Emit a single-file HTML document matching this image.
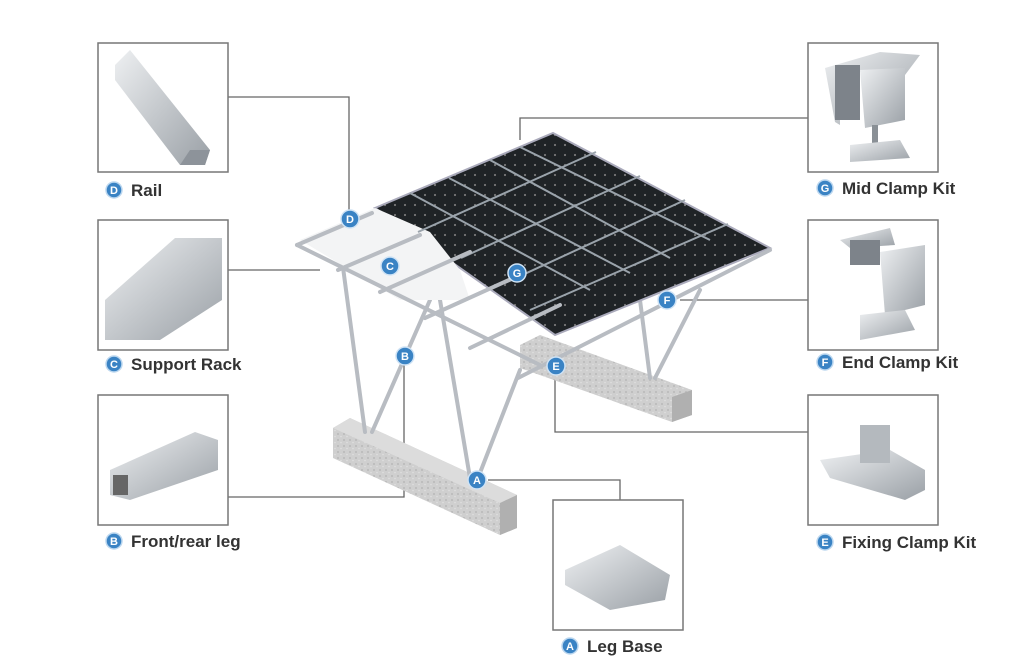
<!DOCTYPE html>
<html><head><meta charset="utf-8"><style>
html,body{margin:0;padding:0;background:#fff;}
svg{display:block}
text{font-family:"Liberation Sans",Arial,sans-serif;}
.lbl{font-size:17px;font-weight:bold;fill:#333;}
.cl{font-size:11px;font-weight:bold;fill:#fff;text-anchor:middle;}
.box{fill:#fff;stroke:#777;stroke-width:1.5}
.ln{stroke:#666;stroke-width:1.3;fill:none}
.beam{stroke:#b8bcc2;stroke-width:4;stroke-linecap:round}
</style></head><body>
<svg width="1024" height="665" viewBox="0 0 1024 665">
<defs>
<pattern id="conc" width="6" height="6" patternUnits="userSpaceOnUse"><rect width="6" height="6" fill="#cfcfcf"/><circle cx="2" cy="2" r="1" fill="#b9b9b9"/><circle cx="5" cy="4.5" r="0.8" fill="#e0e0e0"/></pattern>
<pattern id="cell" width="10" height="10" patternUnits="userSpaceOnUse"><rect width="10" height="10" fill="#1f2326"/><circle cx="5" cy="5" r="1.1" fill="#777"/></pattern>
<linearGradient id="met" x1="0" y1="0" x2="1" y2="1"><stop offset="0" stop-color="#eef0f2"/><stop offset="1" stop-color="#9aa0a6"/></linearGradient>
</defs>

<path class="ln" d="M228 97 H349 V210"/>
<path class="ln" d="M228 270 H320"/>
<path class="ln" d="M228 497 H404 V365"/>
<path class="ln" d="M808 118 H520 V140"/>
<path class="ln" d="M808 300 H680"/>
<path class="ln" d="M808 432 H555 V375"/>
<path class="ln" d="M488 480 H620 V500"/>

<polygon points="333,428 350,418 517,495 517,528 500,535 333,458" fill="url(#conc)"/>
<polygon points="333,428 350,418 517,495 500,503" fill="#dcdcdc"/>
<polygon points="500,503 517,495 517,528 500,535" fill="#b0b0b0"/>
<polygon points="520,345 540,335 692,390 692,415 672,422 520,368" fill="url(#conc)"/>
<polygon points="672,397 692,390 692,415 672,422" fill="#b0b0b0"/>

<line class="beam" x1="365" y1="432" x2="340" y2="245"/>
<line class="beam" x1="372" y1="432" x2="430" y2="300"/>
<line class="beam" x1="470" y1="478" x2="440" y2="300"/>
<line class="beam" x1="478" y1="478" x2="520" y2="370"/>
<line class="beam" x1="650" y1="378" x2="640" y2="300"/>
<line class="beam" x1="655" y1="378" x2="700" y2="290"/>

<polygon points="375,208 553,133 770,248 555,335" fill="url(#cell)" stroke="#aab" stroke-width="2"/>
<polygon points="300,240 375,208 430,232 460,270 470,300 400,300" fill="#f3f4f5"/>
<g stroke="#9aa3ab" stroke-width="2">
<line x1="410" y1="193" x2="590" y2="290"/>
<line x1="449" y1="178" x2="630" y2="273"/>
<line x1="490" y1="160" x2="670" y2="258"/>
<line x1="520" y1="147" x2="710" y2="240"/>
<line x1="418" y1="232" x2="596" y2="152"/>
<line x1="461" y1="258" x2="640" y2="176"/>
<line x1="505" y1="283" x2="685" y2="200"/>
<line x1="530" y1="310" x2="728" y2="224"/>
</g>

<line class="beam" x1="297" y1="245" x2="540" y2="365"/>
<line class="beam" x1="297" y1="245" x2="372" y2="213"/>
<line class="beam" x1="338" y1="270" x2="420" y2="235"/>
<line class="beam" x1="380" y1="292" x2="470" y2="252"/>
<line class="beam" x1="425" y1="318" x2="520" y2="275"/>
<line class="beam" x1="470" y1="348" x2="560" y2="305"/>
<line class="beam" x1="518" y1="378" x2="770" y2="250"/>

<g>
<circle cx="350" cy="219" r="9" fill="#3a83c4" stroke="#cfe3f5" stroke-width="1.5"/><text class="cl" x="350" y="223">D</text>
<circle cx="390" cy="266" r="9" fill="#3a83c4" stroke="#cfe3f5" stroke-width="1.5"/><text class="cl" x="390" y="270">C</text>
<circle cx="517" cy="273" r="9" fill="#3a83c4" stroke="#cfe3f5" stroke-width="1.5"/><text class="cl" x="517" y="277">G</text>
<circle cx="405" cy="356" r="9" fill="#3a83c4" stroke="#cfe3f5" stroke-width="1.5"/><text class="cl" x="405" y="360">B</text>
<circle cx="556" cy="366" r="9" fill="#3a83c4" stroke="#cfe3f5" stroke-width="1.5"/><text class="cl" x="556" y="370">E</text>
<circle cx="667" cy="300" r="9" fill="#3a83c4" stroke="#cfe3f5" stroke-width="1.5"/><text class="cl" x="667" y="304">F</text>
<circle cx="477" cy="480" r="9" fill="#3a83c4" stroke="#cfe3f5" stroke-width="1.5"/><text class="cl" x="477" y="484">A</text>
</g>

<rect class="box" x="98" y="43" width="130" height="129"/>
<polygon points="115,65 130,50 210,150 205,165 180,165 115,80" fill="url(#met)"/>
<polygon points="180,165 205,165 210,150 190,150" fill="#8d939a"/>
<rect class="box" x="98" y="220" width="130" height="130"/>
<polygon points="105,300 175,238 222,238 222,300 160,340 105,340" fill="url(#met)"/>
<rect class="box" x="98" y="395" width="130" height="130"/>
<polygon points="110,470 195,432 218,440 218,470 130,500 110,495" fill="url(#met)"/>
<rect x="113" y="475" width="15" height="20" fill="#666"/>

<rect class="box" x="808" y="43" width="130" height="129"/>
<polygon points="825,68 880,52 920,55 905,75 875,78 870,70 840,75 840,125 835,122" fill="url(#met)"/>
<rect x="835" y="65" width="25" height="55" fill="#7d838a"/>
<polygon points="860,70 905,68 905,120 865,128" fill="url(#met)"/>
<rect x="872" y="125" width="6" height="20" fill="#8a9096"/>
<polygon points="850,145 900,140 910,158 850,162" fill="url(#met)"/>

<rect class="box" x="808" y="220" width="130" height="130"/>
<polygon points="840,240 890,228 895,245 850,248" fill="url(#met)"/>
<rect x="850" y="240" width="30" height="25" fill="#7d838a"/>
<polygon points="880,252 925,245 925,305 885,315" fill="url(#met)"/>
<polygon points="860,315 905,310 915,330 860,340" fill="url(#met)"/>

<rect class="box" x="808" y="395" width="130" height="130"/>
<polygon points="820,460 890,450 925,470 925,490 905,500 830,478" fill="url(#met)"/>
<rect x="860" y="425" width="30" height="38" fill="#b4b9be"/>
<rect class="box" x="553" y="500" width="130" height="130"/>
<polygon points="565,570 620,545 670,575 665,600 610,610 565,585" fill="url(#met)"/>

<circle cx="114" cy="190" r="8" fill="#3a83c4" stroke="#bcd7ef" stroke-width="1.5"/><text class="cl" x="114" y="194">D</text>
<text class="lbl" x="131" y="196">Rail</text>
<circle cx="114" cy="364" r="8" fill="#3a83c4" stroke="#bcd7ef" stroke-width="1.5"/><text class="cl" x="114" y="368">C</text>
<text class="lbl" x="131" y="370">Support Rack</text>
<circle cx="114" cy="541" r="8" fill="#3a83c4" stroke="#bcd7ef" stroke-width="1.5"/><text class="cl" x="114" y="545">B</text>
<text class="lbl" x="131" y="547">Front/rear leg</text>
<circle cx="825" cy="188" r="8" fill="#3a83c4" stroke="#bcd7ef" stroke-width="1.5"/><text class="cl" x="825" y="192">G</text>
<text class="lbl" x="842" y="194">Mid Clamp Kit</text>
<circle cx="825" cy="362" r="8" fill="#3a83c4" stroke="#bcd7ef" stroke-width="1.5"/><text class="cl" x="825" y="366">F</text>
<text class="lbl" x="842" y="368">End Clamp Kit</text>
<circle cx="825" cy="542" r="8" fill="#3a83c4" stroke="#bcd7ef" stroke-width="1.5"/><text class="cl" x="825" y="546">E</text>
<text class="lbl" x="842" y="548">Fixing Clamp Kit</text>
<circle cx="570" cy="646" r="8" fill="#3a83c4" stroke="#bcd7ef" stroke-width="1.5"/><text class="cl" x="570" y="650">A</text>
<text class="lbl" x="587" y="652">Leg Base</text>
</svg>
</body></html>
